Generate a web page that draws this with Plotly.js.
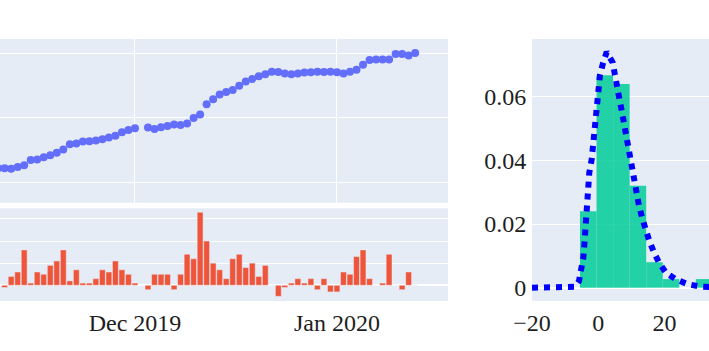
<!DOCTYPE html>
<html>
<head>
<meta charset="utf-8">
<script src="https://cdn.plot.ly/plotly-3.0.1.min.js"></script>
<style>
  html, body { margin: 0; padding: 0; overflow: hidden; background: #fff; width: 709px; height: 351px; }
  #chart { position: absolute; left: -150px; top: 0; width: 1000px; height: 351px; }
</style>
</head>
<body>
<div id="chart"></div>
<script>
// ---- data ----
const dates = [
  "2019-11-10","2019-11-11","2019-11-12","2019-11-13","2019-11-14","2019-11-15","2019-11-16",
  "2019-11-17","2019-11-18","2019-11-19","2019-11-20","2019-11-21","2019-11-22","2019-11-23",
  "2019-11-24","2019-11-25","2019-11-26","2019-11-27","2019-11-28","2019-11-29","2019-11-30",
  "2019-12-01","2019-12-02","2019-12-03","2019-12-04","2019-12-05","2019-12-06","2019-12-07",
  "2019-12-08","2019-12-09","2019-12-10","2019-12-11","2019-12-12","2019-12-13","2019-12-14",
  "2019-12-15","2019-12-16","2019-12-17","2019-12-18","2019-12-19","2019-12-20","2019-12-21",
  "2019-12-22","2019-12-23","2019-12-24","2019-12-25","2019-12-26","2019-12-27","2019-12-28",
  "2019-12-29","2019-12-30","2019-12-31","2020-01-01","2020-01-02","2020-01-03","2020-01-04",
  "2020-01-05","2020-01-06","2020-01-07","2020-01-08","2020-01-09","2020-01-10","2020-01-11",
  "2020-01-12","2020-01-13"
];
const totals = [
  1243,1243,1241,1247,1252,1268,1270,
  1277,1283,1291,1301,1317,1320,1326,
  1327,1329,1333,1338,1344,1355,1362,
  1367,null,1369,1365,1370,1374,1379,
  1377,1382,1399,1410,1442,1457,1472,
  1480,1486,1499,1512,1520,1529,1535,
  1543,1542,1537,1535,1537,1540,1541,
  1543,1542,1543,1541,1537,1543,1549,
  1564,1579,1581,1581,1581,1598,1598,
  1593,1601
];
const changes = [
  null,-1,4,6,16,1,6,
  5,9,11,16,2,7,1,
  1,3,7,6,11,7,5,
  1,null,-2,5,5,5,-2,
  5,14,12,33,20,10,7,
  3,12,14,8,10,4,9,
  0,-5,-1,1,3,1,3,
  -2,3,-3,-3,6,5,13,
  16,3,0,1,14,0,-2,
  6,0
];
// histogram (probability density), bins of width 5
const binCenters = [-3, 2, 7, 12, 17, 22, 27, 32];
const densities  = [0.0240, 0.0667, 0.0640, 0.0320, 0.0080, 0.0027, 0, 0.0027];
// fitted density curve
const curveX = [-20,-15,-10,-8,-7,-5.8,-4.98,-4.5,-4.2,-3.99,-3.69,-3.47,-3.29,-2.99,-2.69,-1.96,-1.57,-1.27,-0.97,-0.66,-0.36,0.03,0.54,1.45,2.57,4.38,5.17,5.77,6.37,7.1,7.7,8.31,9.0,9.7,10.12,10.82,11.51,12.33,13.32,14.35,15.44,16.86,18.46,20.48,23.5,27.0,30.5,34,40,50,60];
const curveY = [0,0,0,0,0.0003,0.0021,0.0058,0.0094,0.0132,0.0171,0.0210,0.0248,0.0286,0.0326,0.0361,0.0403,0.0440,0.0477,0.0516,0.0553,0.0592,0.0631,0.0668,0.0705,0.0740,0.0707,0.0670,0.0631,0.0595,0.0556,0.0520,0.0481,0.0443,0.0407,0.0370,0.0331,0.0293,0.0257,0.0218,0.0181,0.0147,0.0111,0.0077,0.0047,0.0026,0.0011,0.0004,0.0002,0.0001,0,0];

const monthTicks = ["2019-12-01","2020-01-01"];
const monthLabels = ["Dec 2019","Jan 2020"];
const histTicks = [-20, 0, 20];

const traces = [
  { type: "scatter", mode: "markers", x: dates, y: totals, xaxis: "x", yaxis: "y",
    marker: { color: "#636efa", size: 8 }, showlegend: false },
  { type: "bar", x: dates, y: changes, xaxis: "x2", yaxis: "y2",
    marker: { color: "#EF553B", line: { color: "#E5ECF6", width: 0.5 } }, showlegend: false },
  { type: "bar", x: binCenters, y: densities, width: 5, xaxis: "x3", yaxis: "y3",
    marker: { color: "#00cc96", opacity: 0.85, line: { width: 0 } }, showlegend: false },
  { type: "scatter", mode: "lines", x: curveX, y: curveY, xaxis: "x3", yaxis: "y3",
    line: { color: "blue", width: 6, dash: "dot" }, showlegend: false }
];

const xRange = ["2019-10-25 22:34", "2020-01-18 00:58"];
const axisCommon = { gridcolor: "white", zerolinecolor: "white", zerolinewidth: 2, linecolor: "white", ticks: "" };

const layout = {
  width: 1000, height: 351,
  margin: { l: 50, r: 50, t: 39, b: 50 },
  paper_bgcolor: "white", plot_bgcolor: "#E5ECF6",
  font: { family: "Liberation Serif, Times New Roman, serif", size: 24, color: "#1e1e1e" },
  showlegend: false, bargap: 0.1,
  xaxis: Object.assign({}, axisCommon, { domain: [0, 0.60889], anchor: "y", type: "date", range: xRange,
    tickvals: monthTicks, ticktext: monthLabels, showticklabels: false, showgrid: true }),
  yaxis: Object.assign({}, axisCommon, { domain: [0.3752, 1], anchor: "x", range: [1135.7, 1644.4], dtick: 200,
    showticklabels: false }),
  xaxis2: Object.assign({}, axisCommon, { domain: [0, 0.60889], anchor: "y2", type: "date", range: xRange,
    tickvals: monthTicks, ticktext: monthLabels, showgrid: false }),
  yaxis2: Object.assign({}, axisCommon, { domain: [0, 0.3538], anchor: "x2", range: [-7.1, 34.8], dtick: 10,
    showticklabels: false }),
  xaxis3: Object.assign({}, axisCommon, { domain: [0.70222, 1], anchor: "y3", range: [-20, 60.97],
    tickvals: histTicks, showgrid: false, zeroline: false }),
  yaxis3: Object.assign({}, axisCommon, { domain: [0, 1], anchor: "x3", range: [-0.00418, 0.0781], dtick: 0.02 })
};

Plotly.newPlot("chart", traces, layout, { displayModeBar: false, staticPlot: true });
</script>
</body>
</html>
